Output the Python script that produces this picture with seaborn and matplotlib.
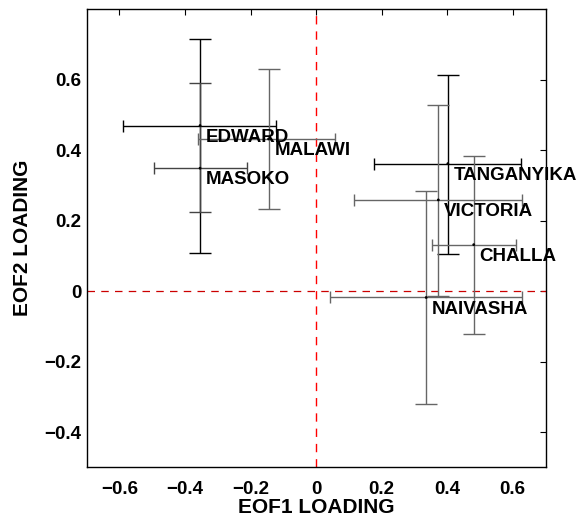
import matplotlib
matplotlib.use("Agg")
import matplotlib.pyplot as plt
import seaborn as sns
import numpy as np
import pandas as pd

lakes = ["EDWARD", "MASOKO", "MALAWI", "TANGANYIKA", "VICTORIA", "CHALLA", "NAIVASHA"]
eof1 = [-0.354, -0.354, -0.145, 0.402, 0.373, 0.481, 0.336]
eof2 = [0.470, 0.349, 0.432, 0.362, 0.259, 0.132, -0.018]
eof1_low = [-0.590, -0.496, -0.360, 0.177, 0.116, 0.355, 0.043]
eof1_high = [-0.122, -0.211, 0.058, 0.625, 0.629, 0.610, 0.628]
eof2_low = [0.108, 0.226, 0.233, 0.105, -0.015, -0.121, -0.319]
eof2_high = [0.715, 0.590, 0.630, 0.613, 0.528, 0.385, 0.283]
bar_colors = ["#000000", "#444444", "#666666", "#000000", "#666666", "#666666", "#666666"]

xticks = [-0.6, -0.4, -0.2, 0, 0.2, 0.4, 0.6]
yticks = [-0.4, -0.2, 0, 0.2, 0.4, 0.6]
xtick_labels = ["\u22120.6", "\u22120.4", "\u22120.2", "0", "0.2", "0.4", "0.6"]
ytick_labels = ["\u22120.4", "\u22120.2", "0", "0.2", "0.4", "0.6"]

df = pd.DataFrame({"lake": lakes, "eof1": eof1, "eof2": eof2})

sns.set_style("white")
plt.rcParams["font.family"] = ["Liberation Sans", "DejaVu Sans"]
plt.rcParams["font.weight"] = "bold"
plt.rcParams["text.color"] = "black"
plt.rcParams["axes.labelcolor"] = "black"
plt.rcParams["xtick.color"] = "black"
plt.rcParams["ytick.color"] = "black"

fig = plt.figure(figsize=(5.81, 5.23), dpi=100)
ax = fig.add_axes([0.1492, 0.1065, 0.9389 - 0.1492, 0.9822 - 0.1065])

ax.axvline(0, color="#ff0000", lw=1.0, linestyle=(0, (6, 5)), zorder=1)
ax.axhline(0, color="#cc0000", lw=0.9, linestyle=(0, (6, 5)), zorder=1)

for i in range(len(lakes)):
    x, y = eof1[i], eof2[i]
    ax.errorbar([x], [y], yerr=[[y - eof2_low[i]], [eof2_high[i] - y]],
                fmt="none", ecolor=bar_colors[i], elinewidth=1.0, capsize=8, capthick=1.0, zorder=2)
    ax.errorbar([x], [y], xerr=[[x - eof1_low[i]], [eof1_high[i] - x]],
                fmt="none", ecolor=bar_colors[i], elinewidth=1.0, capsize=4.5, capthick=1.0, zorder=2)

sns.scatterplot(data=df, x="eof1", y="eof2", ax=ax, color="black", s=4, edgecolor="none", zorder=3, legend=False)

for i, name in enumerate(lakes):
    ax.text(eof1[i] + 0.018, eof2[i] - 0.033, name, fontsize=13.5, fontweight="bold",
            color="black", ha="left", va="center", zorder=4)

ax.set_xlim(-0.7, 0.7)
ax.set_ylim(-0.5, 0.8)
ax.set_xticks(xticks)
ax.set_xticklabels(xtick_labels)
ax.set_yticks(yticks)
ax.set_yticklabels(ytick_labels)
ax.tick_params(direction="in", length=4, width=0.8, top=True, right=True,
               labelsize=13.5, color="black", labelcolor="black")
ax.tick_params(axis="x", pad=10)
ax.tick_params(axis="y", pad=4)
for lbl in ax.get_xticklabels() + ax.get_yticklabels():
    lbl.set_fontweight("bold")
for sp in ax.spines.values():
    sp.set_visible(True)
    sp.set_color("black")
    sp.set_linewidth(1.0)

ax.set_xlabel("EOF1 LOADING", fontsize=15, fontweight="bold", labelpad=0, color="black")
ax.set_ylabel("EOF2 LOADING", fontsize=15, fontweight="bold", labelpad=9, color="black")

fig.savefig("out.png", dpi=100)
